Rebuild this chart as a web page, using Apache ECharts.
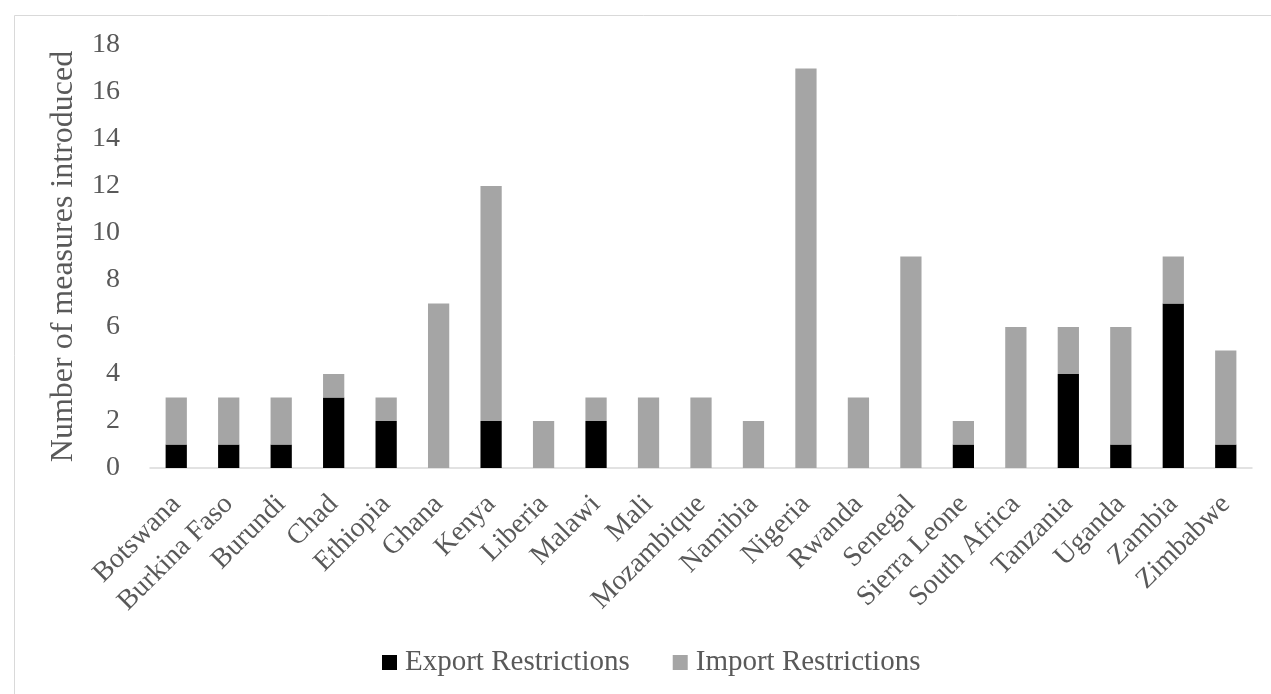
<!DOCTYPE html>
<html>
<head>
<meta charset="utf-8">
<script src="https://cdn.jsdelivr.net/npm/echarts@6/dist/echarts.min.js"></script>
<style>
html,body{margin:0;padding:0;background:#fff;}
#chart{width:1271px;height:694px;}
</style>
</head>
<body>
<div id="chart"></div>
<script>
const countries = ["Botswana","Burkina Faso","Burundi","Chad","Ethiopia","Ghana","Kenya","Liberia","Malawi","Mali","Mozambique","Namibia","Nigeria","Rwanda","Senegal","Sierra Leone","South Africa","Tanzania","Uganda","Zambia","Zimbabwe"];
const exportRestrictions = [1,1,1,3,2,0,2,0,2,0,0,0,0,0,0,1,0,4,1,7,1];
const importRestrictions = [2,2,2,1,1,7,10,2,1,3,3,2,17,3,9,1,6,2,5,2,4];
const seriesNames = ["Export Restrictions","Import Restrictions"];
const yTicks = {min:0, max:18, interval:2};

const font = '"Liberation Serif","Times New Roman",serif';
const textColor = '#595959';
const chart = echarts.init(document.getElementById('chart'));
chart.setOption({
  animation:false,
  backgroundColor:'#ffffff',
  textStyle:{fontFamily:font,color:textColor},
  graphic:[{type:'rect',left:12,top:13,shape:{x:0,y:0,width:1300,height:700},style:{fill:'none',stroke:'#d9d9d9',lineWidth:1},silent:true,z:-1}],
  grid:{left:150,right:19,top:45,bottom:226,containLabel:false},
  legend:{
    data:seriesNames,
    left:377,
    top:643,
    itemWidth:15,itemHeight:15,itemGap:43,
    icon:'rect',
    textStyle:{fontFamily:font,fontSize:29,color:textColor,padding:[0,0,0,3]}
  },
  xAxis:{
    type:'category',
    data:countries,
    axisLine:{lineStyle:{color:'#d9d9d9',width:1.5}},
    axisTick:{show:false},
    axisLabel:{interval:0,rotate:45,margin:32,fontFamily:font,fontSize:28,color:textColor}
  },
  yAxis:{
    type:'value',
    min:yTicks.min,max:yTicks.max,interval:yTicks.interval,
    name:'Number of measures introduced',
    nameLocation:'middle',
    nameGap:70,
    nameTextStyle:{fontFamily:font,fontSize:32,color:textColor},
    axisLine:{show:false},
    axisTick:{show:false},
    splitLine:{show:false},
    axisLabel:{margin:30,fontFamily:font,fontSize:28,color:textColor}
  },
  series:[
    {name:seriesNames[0],type:'bar',stack:'t',data:exportRestrictions,barWidth:'40.5%',itemStyle:{color:'#000000',borderWidth:0}},
    {name:seriesNames[1],type:'bar',stack:'t',data:importRestrictions,barWidth:'40.5%',itemStyle:{color:'#a5a5a5',borderWidth:0}}
  ]
});
</script>
</body>
</html>
